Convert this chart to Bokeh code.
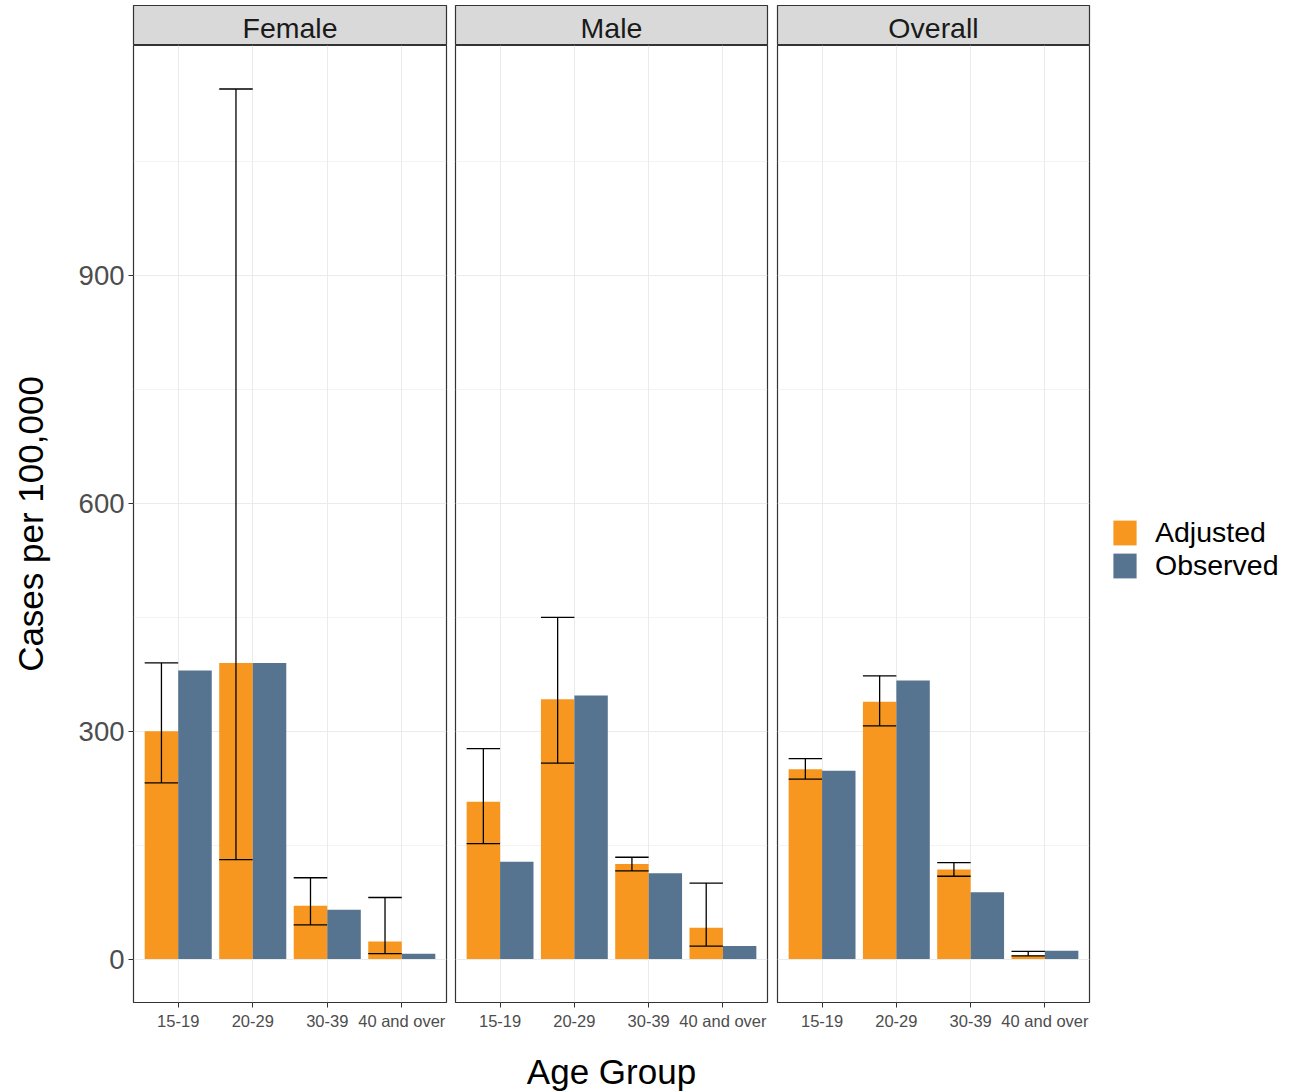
from bokeh.plotting import figure
from bokeh.models import (ColumnDataSource, Range1d, FactorRange, FixedTicker, Grid,
                          Legend, LegendItem, Label)
from bokeh.core.properties import value
from bokeh.transform import dodge
from bokeh.layouts import row, column
from bokeh.embed import file_html
from bokeh.resources import INLINE

# ---------------- data ----------------
age_groups = ["15-19", "20-29", "30-39", "40 and over"]
panels = ["Female", "Male", "Overall"]
series_labels = ["Adjusted", "Observed"]

female_adjusted = [300, 390, 70, 23]
female_observed = [380, 390, 65, 7]
female_lower = [232, 131, 45, 7]
female_upper = [390, 1146, 107, 81]

male_adjusted = [207, 342, 125, 41]
male_observed = [128, 347, 113, 17]
male_lower = [152, 258, 116, 17]
male_upper = [277, 450, 134, 100]

overall_adjusted = [250, 339, 118, 5]
overall_observed = [248, 367, 88, 11]
overall_lower = [237, 307, 109, 4]
overall_upper = [264, 373, 127, 10]

y_ticks = [0, 300, 600, 900]
y_minor = [150, 450, 750, 1050]

# ---------------- style ----------------
FONT = "Liberation Sans"
ORANGE = "#F7971F"
BLUE = "#56748F"
BORDER = "#333333"
GRID = "#EBEBEB"

panel_data = {
    "Female": (female_adjusted, female_observed, female_lower, female_upper),
    "Male": (male_adjusted, male_observed, male_lower, male_upper),
    "Overall": (overall_adjusted, overall_observed, overall_lower, overall_upper),
}

ymax = max(max(female_upper), max(male_upper), max(overall_upper))
pad = 0.05 * ymax
y_start, y_end = -pad, ymax + pad

frame_widths = [313, 312, 312]
left_borders = [133, 5, 5]
right_borders = [4, 5, 200]
FRAME_H = 957
STRIP_H = 40
TOP = 5
BOTTOM = 88

cols = []
for i, name in enumerate(panels):
    adj, obs, lo, hi = panel_data[name]
    src = ColumnDataSource(dict(age=age_groups, adjusted=adj, observed=obs, lower=lo, upper=hi))

    # ---- strip ----
    s = figure(x_range=Range1d(0, 1), y_range=Range1d(0, 1),
               frame_width=frame_widths[i], frame_height=STRIP_H,
               x_axis_location=None, y_axis_location=None,
               toolbar_location=None, tools="", output_backend="svg",
               min_border_left=left_borders[i], min_border_right=right_borders[i],
               min_border_top=TOP, min_border_bottom=0,
               background_fill_color="#D9D9D9", border_fill_color="white",
               outline_line_color=BORDER, outline_line_width=1.2)
    s.grid.visible = False
    s.add_layout(Label(x=0.5, y=0.45, text=name, text_align="center", text_baseline="middle",
                       text_font_size="28.5px", text_font=FONT, text_color="#1A1A1A"))

    # ---- panel ----
    xr = FactorRange(factors=age_groups, range_padding=0.1, range_padding_units="absolute")
    p = figure(x_range=xr, y_range=Range1d(y_start, y_end),
               frame_width=frame_widths[i], frame_height=FRAME_H,
               y_axis_location="left" if i == 0 else None,
               toolbar_location=None, tools="", output_backend="svg",
               min_border_left=left_borders[i], min_border_right=right_borders[i],
               min_border_top=0, min_border_bottom=BOTTOM,
               background_fill_color="white", border_fill_color="white",
               outline_line_color=BORDER, outline_line_width=1.2)

    # grids
    p.center = [r for r in p.center if not (isinstance(r, Grid) and r.dimension == 1)]
    p.add_layout(Grid(dimension=1, ticker=FixedTicker(ticks=y_ticks, minor_ticks=y_minor),
                      grid_line_color=GRID, grid_line_width=1,
                      minor_grid_line_color=GRID, minor_grid_line_width=0.6))
    p.xgrid.grid_line_color = GRID
    p.xgrid.grid_line_width = 1

    r_adj = p.vbar(x=dodge("age", -0.225, range=p.x_range), top="adjusted", bottom=0, width=0.45,
                   source=src, fill_color=ORANGE, line_color=None)
    # error bars
    p.segment(x0=dodge("age", -0.225, range=p.x_range), y0="lower",
              x1=dodge("age", -0.225, range=p.x_range), y1="upper",
              source=src, line_color="black", line_width=1.3)
    p.segment(x0=dodge("age", -0.45, range=p.x_range), y0="upper",
              x1=dodge("age", 0.0, range=p.x_range), y1="upper",
              source=src, line_color="black", line_width=1.3)
    p.segment(x0=dodge("age", -0.45, range=p.x_range), y0="lower",
              x1=dodge("age", 0.0, range=p.x_range), y1="lower",
              source=src, line_color="black", line_width=1.3)
    r_obs = p.vbar(x=dodge("age", 0.225, range=p.x_range), top="observed", bottom=0, width=0.45,
                   source=src, fill_color=BLUE, line_color=None)

    # x axis
    xa = p.xaxis[0]
    xa.axis_line_color = None
    xa.major_tick_in = 0
    xa.major_tick_out = 5
    xa.major_tick_line_color = BORDER
    xa.minor_tick_line_color = None
    xa.major_label_standoff = 4
    xa.major_label_text_font = FONT
    xa.major_label_text_font_size = "16.5px"
    xa.major_label_text_color = "#4D4D4D"
    if i == 1:
        xa.axis_label = "Age Group"
        xa.axis_label_text_font = FONT
        xa.axis_label_text_font_size = "35px"
        xa.axis_label_text_font_style = "normal"
        xa.axis_label_text_color = "black"
        xa.axis_label_standoff = 19

    if i == 0:
        ya = p.yaxis[0]
        ya.ticker = FixedTicker(ticks=y_ticks)
        ya.axis_line_color = None
        ya.major_tick_in = 0
        ya.major_tick_out = 5
        ya.major_tick_line_color = BORDER
        ya.minor_tick_line_color = None
        ya.major_label_standoff = 4
        ya.major_label_text_font = FONT
        ya.major_label_text_font_size = "27.5px"
        ya.major_label_text_color = "#4D4D4D"
        ya.axis_label = "Cases per 100,000"
        ya.axis_label_text_font = FONT
        ya.axis_label_text_font_size = "35px"
        ya.axis_label_text_font_style = "normal"
        ya.axis_label_text_color = "black"
        ya.axis_label_standoff = 26

    if i == 2:
        legend = Legend(items=[LegendItem(label=value(series_labels[0]), renderers=[r_adj]),
                               LegendItem(label=value(series_labels[1]), renderers=[r_obs])],
                        location=(21, 420), orientation="vertical",
                        glyph_width=29, glyph_height=31, spacing=-5, label_standoff=16,
                        label_text_font=FONT, label_text_font_size="28.5px",
                        label_text_color="black", padding=0, margin=0,
                        border_line_color=None, background_fill_alpha=0)
        p.add_layout(legend, "right")

    cols.append(column(s, p, spacing=0))

layout = row(*cols, spacing=0)

open("out.html", "w").write(file_html(layout, INLINE))
